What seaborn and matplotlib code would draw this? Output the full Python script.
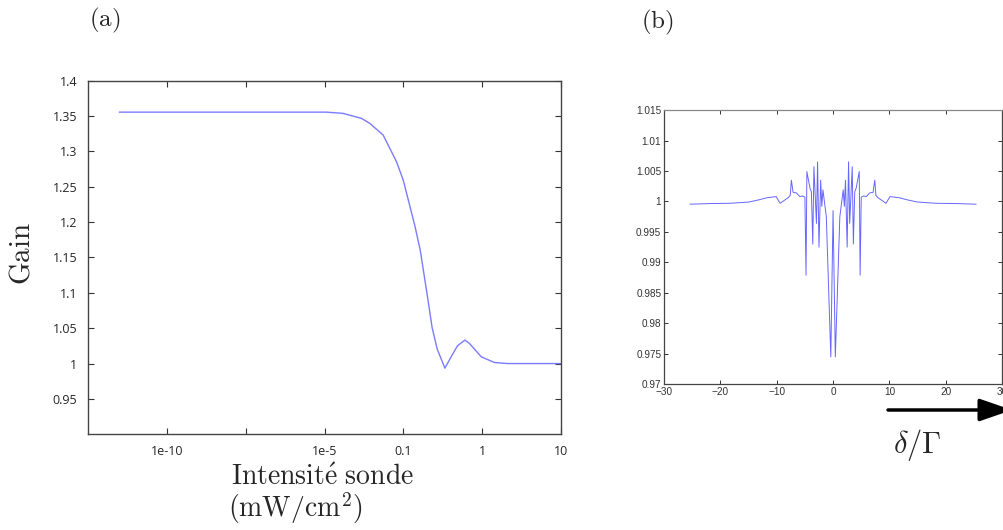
import numpy as np
import matplotlib
matplotlib.use("Agg")
import matplotlib.pyplot as plt
import seaborn as sns
from matplotlib.ticker import FuncFormatter

# (a) gain vs probe intensity (log10 of mW/cm2)
log_intensity = [-11.52, -9.0, -7.0, -4.91, -4.07, -3.125, -2.70, -2.02, -1.34,
                 -1.0, -0.935, -0.849, -0.784, -0.698, -0.634, -0.569, -0.471,
                 -0.397, -0.311, -0.217, -0.160, -0.009, 0.158, 0.325, 0.6, 1.0]
gain = [1.3555, 1.3555, 1.3555, 1.3555, 1.3538, 1.3467, 1.3396, 1.3230, 1.2852,
        1.2592, 1.2309, 1.1930, 1.1600, 1.0985, 1.0511, 1.0204, 0.9935,
        1.0086, 1.0252, 1.0332, 1.0285, 1.0095, 1.0015, 1.0000, 1.0000, 1.0000]
a_xticks = [1e-10, 10 ** -7.5, 1e-5, 0.1, 1, 10]
a_xticklabels = ['1e-10', '', '1e-5', '0.1', '1', '10']
a_yticks = [0.95, 1.0, 1.05, 1.1, 1.15, 1.2, 1.25, 1.3, 1.35, 1.4]

# (b) gain vs detuning delta/Gamma
detuning = [-25.4, -22.0, -18.3, -15.0, -13.0, -11.8, -10.1, -9.4, -8.0, -7.6, -7.4,
            -7.1, -6.5, -5.9, -5.4, -5.0, -4.8, -4.65, -4.1, -3.85, -3.6, -3.4, -2.95,
            -2.75, -2.5, -2.2, -2.0, -1.8, -1.2, -0.4, 0.0,
            0.4, 1.2, 1.8, 2.0, 2.2, 2.5, 2.75, 2.95, 3.4, 3.6, 3.85, 4.1, 4.65,
            4.8, 5.0, 5.4, 5.9, 6.5, 7.1, 7.4, 7.6, 8.0, 9.4, 10.1, 11.8, 13.0,
            15.0, 18.3, 22.0, 25.4]
gain_b = [0.99955, 0.99965, 0.99970, 0.99990, 1.00030, 1.00060, 1.00080, 0.99970,
          1.00060, 1.00100, 1.00350, 1.00150, 1.00140, 1.00080, 1.00090, 1.00070,
          0.98790, 1.00490, 1.00220, 1.00160, 0.99300, 1.00570, 0.99640, 1.00650,
          0.99250, 1.00350, 0.99920, 1.00190, 0.99750, 0.97450, 0.99850,
          0.97450, 0.99750, 1.00190, 0.99920, 1.00350, 0.99250, 1.00650, 0.99640,
          1.00570, 0.99300, 1.00160, 1.00220, 1.00490, 0.98790, 1.00070, 1.00090,
          1.00080, 1.00140, 1.00150, 1.00350, 1.00100, 1.00060, 0.99970, 1.00080,
          1.00060, 1.00030, 0.99990, 0.99970, 0.99965, 0.99955]

sns.set_style('white')
plt.rcParams['mathtext.fontset'] = 'cm'

fig = plt.figure(figsize=(10.04, 5.30), dpi=100)

# ---- panel (a)
ax1 = fig.add_axes([0.0880, 0.1806, 0.4705, 0.6672])
intensity = 10 ** np.array(log_intensity)
sns.lineplot(x=intensity, y=gain, ax=ax1, color='#7b7bff', lw=1.0)

# matlab-style axis: equally spaced ticks with uneven decades
knot_log = [-12.5, -10, -7.5, -5, -1, 0, 1]
knot_pos = [0, 1, 2, 3, 4, 5, 6]
def fwd(x):
    return np.interp(np.log10(np.clip(x, 1e-30, None)), knot_log, knot_pos)
def inv(p):
    return 10 ** np.interp(p, knot_pos, knot_log)
ax1.set_xscale('function', functions=(fwd, inv))
ax1.set_xlim(10 ** -12.5, 10)
ax1.set_ylim(0.9, 1.4)
ax1.set_xticks(a_xticks)
ax1.set_xticklabels(a_xticklabels)
ax1.minorticks_off()
ax1.set_yticks(a_yticks)
ax1.yaxis.set_major_formatter(FuncFormatter(lambda v, p: '%g' % v))
ax1.tick_params(direction='in', length=4, width=0.8, color='#333333',
                bottom=True, left=True, top=True, right=True, labelsize=9, pad=8)
for lab in ax1.get_xticklabels() + ax1.get_yticklabels():
    lab.set_family('Open Sans')
for s in ax1.spines.values():
    s.set_color('#444444')
    s.set_linewidth(1.0)
ax1.set_xlabel('')
ax1.set_ylabel('')

# ---- panel (b)
ax2 = fig.add_axes([0.6614, 0.2749, 0.3367, 0.5175])
sns.lineplot(x=detuning, y=gain_b, ax=ax2, color='#6666ff', lw=0.7)
ax2.set_xlim(-30, 30)
ax2.set_ylim(0.97, 1.015)
ax2.set_xticks([-30, -20, -10, 0, 10, 20, 30])
ax2.set_yticks([0.97, 0.975, 0.98, 0.985, 0.99, 0.995, 1.0, 1.005, 1.01, 1.015])
ax2.yaxis.set_major_formatter(FuncFormatter(lambda v, p: '%g' % round(v, 4)))
ax2.tick_params(direction='in', length=3, width=0.7, color='#333333',
                bottom=True, left=True, top=True, right=True,
                labelsize=7.2, labelcolor='#333333', pad=2)
for lab in ax2.get_xticklabels() + ax2.get_yticklabels():
    lab.set_family('Liberation Sans')
for s in ax2.spines.values():
    s.set_color('#444444')
    s.set_linewidth(0.9)
ax2.spines['top'].set_color('#888888')
ax2.set_xlabel('')
ax2.set_ylabel('')

# ---- labels
fig.text(105 / 1004, 1 - 20 / 530, r'$\mathrm{(a)}$', fontsize=18, ha='center', va='center')
fig.text(657 / 1004, 1 - 22 / 530, r'$\mathrm{(b)}$', fontsize=18, ha='center', va='center')
fig.text(22 / 1004, 1 - 253 / 530, r'$\mathrm{Gain}$', fontsize=21, rotation=90,
         ha='center', va='center')
fig.text(231 / 1004, 1 - 477 / 530, r'$\mathrm{Intensit\acute{e}\ sonde}$', fontsize=20,
         ha='left', va='center')
fig.text(228 / 1004, 1 - 508 / 530, r'$\mathrm{(mW/cm^2)}$', fontsize=20,
         ha='left', va='center')
fig.text(917 / 1004, 1 - 445 / 530, r'$\delta/\Gamma$', fontsize=22, ha='center', va='center')

# arrow under panel (b)
fig.add_artist(matplotlib.patches.FancyArrowPatch(
    (888 / 1004, 1 - 410 / 530), (1.008, 1 - 410 / 530), transform=fig.transFigure,
    arrowstyle='-|>,head_length=1.1,head_width=0.38', mutation_scale=18,
    color='black', lw=2.5, shrinkA=0, shrinkB=0))

fig.savefig('out.png', dpi=100)
